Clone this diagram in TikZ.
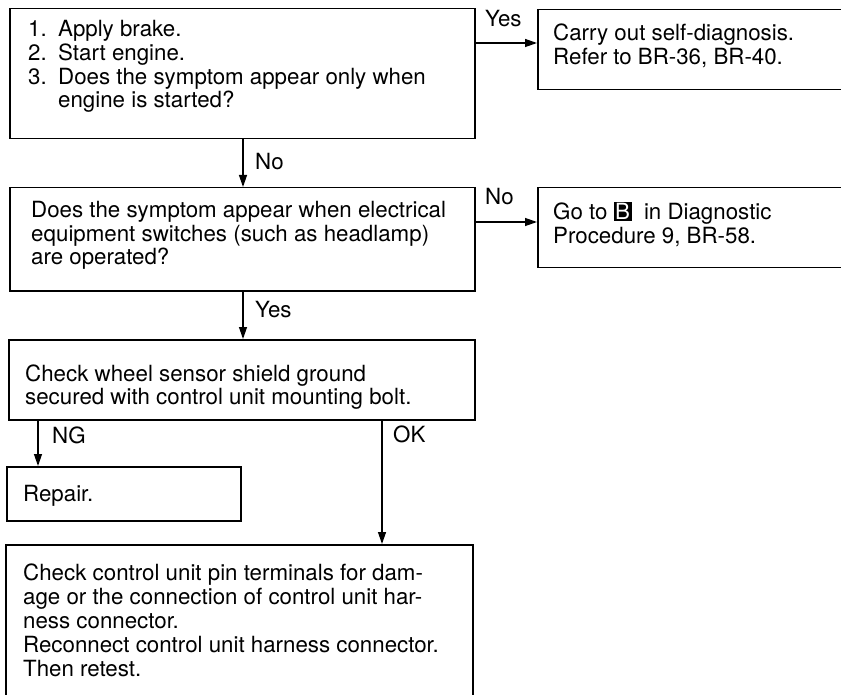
\documentclass[tikz,border=0pt]{standalone}
\usepackage{fontspec}
\setmainfont{TeX Gyre Heros}
\usetikzlibrary{arrows.meta}
\newcommand\fs{\fontsize{22.3}{23.4}\selectfont}
\newcommand\fsb{\fontsize{22.3}{24.2}\selectfont}
\newcommand\Bmark{{\setlength\fboxsep{1.5pt}\colorbox{black}{\textcolor{white}{B}}}}
\begin{document}
\begin{tikzpicture}[x=1pt,y=-1pt,
  box/.style={draw,line width=1.5pt,rectangle,anchor=north west,inner sep=0pt},
  txt/.style={anchor=base west,inner sep=0pt,font=\fs},
  lbl/.style={anchor=base west,inner sep=0pt,font=\fs},
  arr/.style={line width=1.3pt,-{Triangle[length=12pt,width=8pt]}}]
\useasboundingbox (0,0) rectangle (841,695);
\clip (0,0) rectangle (841,695);
% boxes
\node[box,minimum width=465pt,minimum height=130pt] (b1) at (9,8) {};
\node[box,minimum width=340pt,minimum height=80pt] (r1) at (537,9) {};
\node[box,minimum width=465pt,minimum height=103pt] (b2) at (9,187) {};
\node[box,minimum width=340pt,minimum height=80pt] (r2) at (537,187) {};
\node[box,minimum width=466pt,minimum height=80pt] (b3) at (8,339) {};
\node[box,minimum width=234pt,minimum height=54pt] (b4) at (6,466) {};
\node[box,minimum width=467pt,minimum height=180pt] (b5) at (5,544) {};
% texts
\node[txt] (t1) at (28,37) {\begin{tabular}[t]{@{}l@{}}
\makebox[30pt][l]{1.}Apply brake.\\
\makebox[30pt][l]{2.}Start engine.\\
\makebox[30pt][l]{3.}Does the symptom appear only when\\
\hspace*{30pt}engine is started?\end{tabular}};
\node[txt] (tr1) at (553,41) {\begin{tabular}[t]{@{}l@{}}
Carry out self-diagnosis.\\ Refer to BR-36, BR-40.\end{tabular}};
\node[txt] (t2) at (31,218) {\begin{tabular}[t]{@{}l@{}}
Does the symptom appear when electrical\\
equipment switches (such as headlamp)\\
are operated?\end{tabular}};
\node[txt] (tr2) at (553,220) {\begin{tabular}[t]{@{}l@{}}
Go to \Bmark\ \ in Diagnostic\\ Procedure 9, BR-58.\end{tabular}};
\node[txt] (t3) at (25,381) {\begin{tabular}[t]{@{}l@{}}
Check wheel sensor shield ground\\
secured with control unit mounting bolt.\end{tabular}};
\node[txt] (t4) at (23,501) {Repair.};
\node[txt,font=\fsb] (t5) at (23,580) {\begin{tabular}[t]{@{}l@{}}
Check control unit pin terminals for dam-\\
age or the connection of control unit har-\\
ness connector.\\
Reconnect control unit harness connector.\\
Then retest.\end{tabular}};
% connectors
\coordinate (xa) at (243,0);
\coordinate (xng) at (38,0);
\coordinate (xok) at (382,0);
\coordinate (ya) at (0,43);
\coordinate (yb) at (0,222);
\draw[arr] (b1.south -| xa) -- (b2.north -| xa);
\draw[arr] (b2.south -| xa) -- (b3.north -| xa);
\draw[arr] (b1.east |- ya) -- (r1.west |- ya);
\draw[arr] (b2.east |- yb) -- (r2.west |- yb);
\draw[arr] (b3.south -| xng) -- (b4.north -| xng);
\draw[arr] (b3.south -| xok) -- (b5.north -| xok);
% labels
\node[lbl] (lyes1) at (485,27) {Yes};
\node[lbl] (lno1) at (255,170) {No};
\node[lbl] (lno2) at (485,205) {No};
\node[lbl] (lyes2) at (255,317) {Yes};
\node[lbl] (lng) at (52,443) {NG};
\node[lbl] (lok) at (393,442) {OK};
\end{tikzpicture}
\end{document}
